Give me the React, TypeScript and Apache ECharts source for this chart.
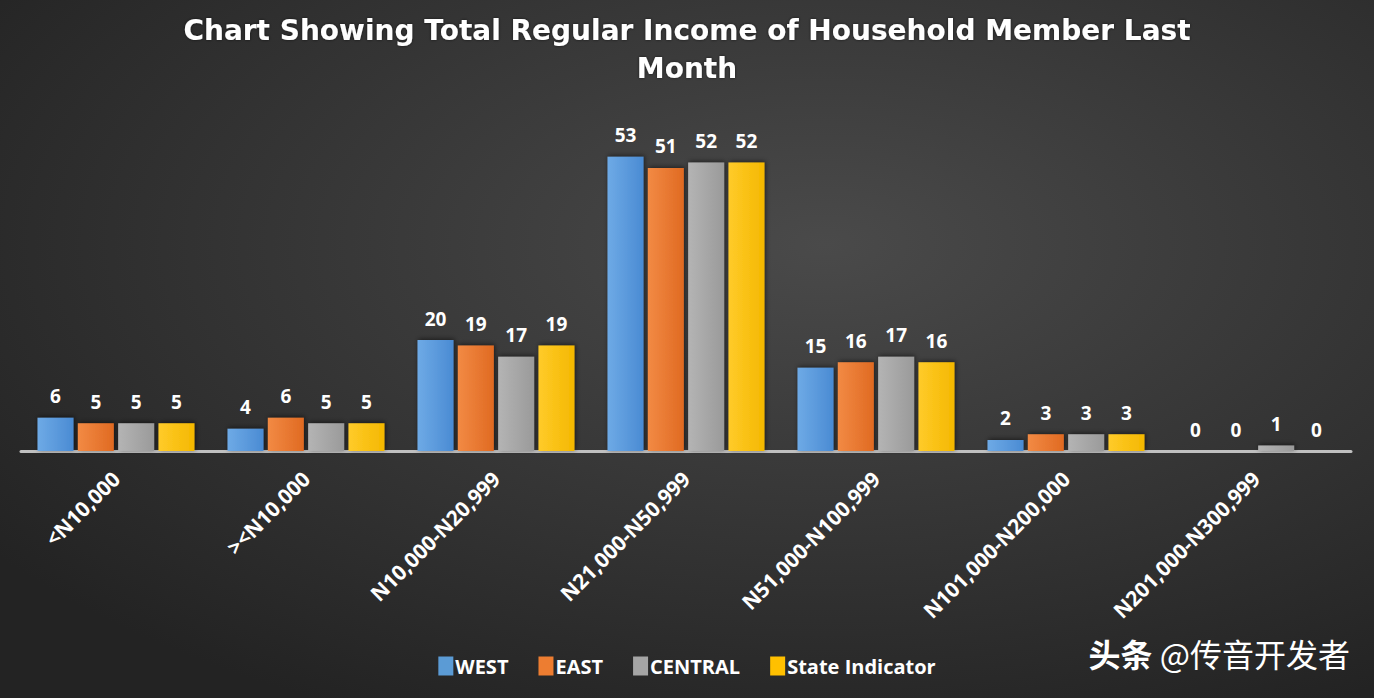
import React, { useEffect, useRef } from "react";
import * as echarts from "echarts";

const categories = [
  "<N10,000",
  "><N10,000",
  "N10,000-N20,999",
  "N21,000-N50,999",
  "N51,000-N100,999",
  "N101,000-N200,000",
  "N201,000-N300,999",
];
const seriesNames = ["WEST", "EAST", "CENTRAL", "State Indicator"];
const west = [6, 4, 20, 53, 15, 2, 0];
const east = [5, 6, 19, 51, 16, 3, 0];
const central = [5, 5, 17, 52, 17, 3, 1];
const stateIndicator = [5, 5, 19, 52, 16, 3, 0];
const titleText = "Chart Showing Total Regular Income of Household Member Last\nMonth";
const watermarkBold = "头条";
const watermarkRest = " @传音开发者";

const palette = [
  ["#6eaae6", "#4a8bd3"],
  ["#f28a44", "#e06a22"],
  ["#b4b4b4", "#9a9a9a"],
  ["#ffcb2a", "#f4b800"],
];
const legendColors = ["#5b9bd5", "#ed7d31", "#a5a5a5", "#ffc000"];

export default function App() {
  const ref = useRef<HTMLDivElement>(null);
  useEffect(() => {
    document.body.style.margin = "0";
    const chart = echarts.init(ref.current!, null, { renderer: "svg" });
    const datas = [west, east, central, stateIndicator];
    const font = "'Open Sans', 'Noto Sans', sans-serif";
    chart.setOption({
      animation: false,
      backgroundColor: {
        type: "radial",
        x: 0.6,
        y: 0.35,
        r: 0.75,
        colorStops: [
          { offset: 0, color: "#4a4a4a" },
          { offset: 1, color: "#232323" },
        ],
      },
      title: {
        text: titleText,
        left: "center",
        top: 6,
        textStyle: {
          color: "#ffffff",
          fontFamily: "'DejaVu Sans', sans-serif",
          fontWeight: "bold",
          fontSize: 28,
          lineHeight: 38,
          textShadowColor: "rgba(0,0,0,0.6)",
          textShadowBlur: 3,
        },
      },
      legend: {
        bottom: 17,
        left: "center",
        itemWidth: 15,
        itemHeight: 19,
        itemGap: 30,
        icon: "rect",
        textStyle: {
          color: "#ffffff",
          fontFamily: font,
          fontWeight: "bold",
          fontSize: 20,
          padding: [0, 0, 0, -3],
        },
        data: seriesNames.map((n, i) => ({ name: n, itemStyle: { color: legendColors[i] } })),
      },
      grid: { left: 21, right: 23, top: 118, bottom: 247, containLabel: false },
      xAxis: {
        type: "category",
        data: categories,
        axisLine: { show: true, lineStyle: { color: "#c0c0c0", width: 3 } },
        axisTick: { show: false },
        axisLabel: {
          rotate: 45,
          interval: 0,
          margin: 24,
          color: "#ffffff",
          fontFamily: font,
          fontWeight: "bold",
          fontSize: 21,
        },
      },
      yAxis: {
        type: "value",
        min: 0,
        max: 60,
        show: false,
        splitLine: { show: false },
      },
      graphic: [
        {
          type: "text",
          right: 24,
          top: 637,
          style: {
            text: "{b|" + watermarkBold + "}{r|" + watermarkRest + "}",
            rich: {
              b: {
                fill: "#ffffff",
                fontFamily: "'Noto Sans CJK SC', sans-serif",
                fontWeight: "bold",
                fontSize: 32,
              },
              r: {
                fill: "#ffffff",
                fontFamily: "'Noto Sans CJK SC', sans-serif",
                fontSize: 32,
              },
            },
            fill: "#ffffff",
            font: "32px 'Noto Sans CJK SC', sans-serif",
            shadowColor: "rgba(0,0,0,0.8)",
            shadowBlur: 4,
          },
        },
      ],
      series: seriesNames.map((name, i) => ({
        name,
        type: "bar",
        data: datas[i],
        barWidth: 36,
        barGap: "12%",
        itemStyle: {
          color: {
            type: "linear",
            x: 0,
            y: 0,
            x2: 1,
            y2: 0,
            colorStops: [
              { offset: 0, color: palette[i][0] },
              { offset: 1, color: palette[i][1] },
            ],
          },
          shadowColor: "rgba(0,0,0,0.55)",
          shadowBlur: 5,
          shadowOffsetX: 1,
          shadowOffsetY: -1,
        },
        label: {
          show: true,
          position: "top",
          distance: 12,
          color: "#ffffff",
          fontFamily: font,
          fontWeight: "bold",
          fontSize: 19,
        },
      })),
    });
    return () => chart.dispose();
  }, []);
  return <div ref={ref} style={{ width: 1374, height: 698 }} />;
}
